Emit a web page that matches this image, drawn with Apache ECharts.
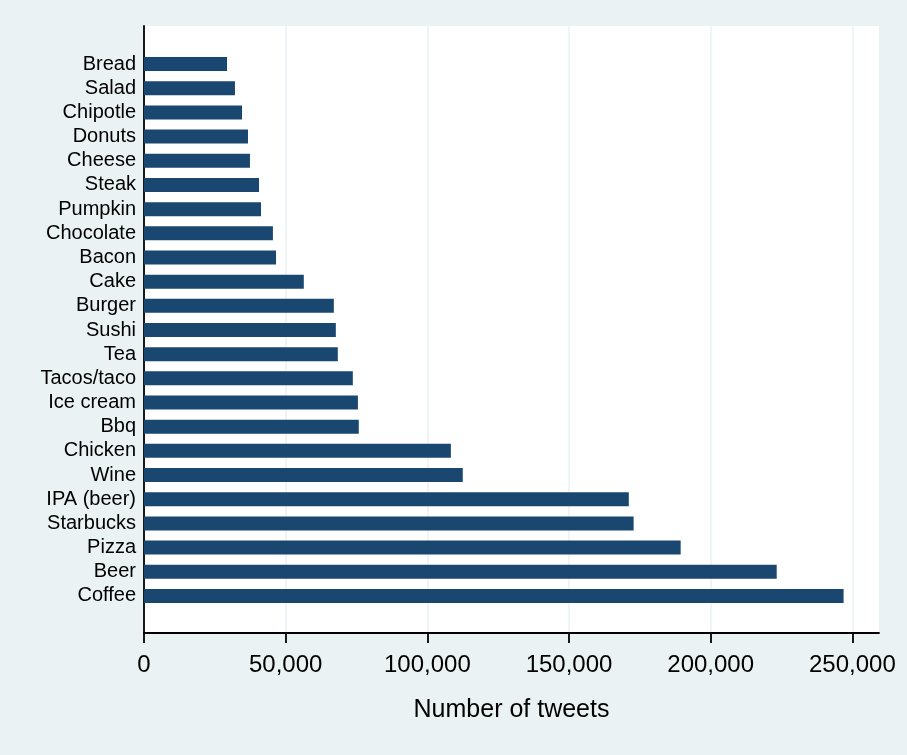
<!DOCTYPE html>
<html>
<head>
<meta charset="utf-8">
<script src="https://cdn.jsdelivr.net/npm/echarts@6/dist/echarts.min.js"></script>
<style>
    html, body {margin: 0; padding: 0; background: #eaf2f3;}
    #chart {width: 907px; height: 755px;}
</style>
</head>
<body>
<div id="chart"></div>
<script>
const foods = ['Bread', 'Salad', 'Chipotle', 'Donuts', 'Cheese', 'Steak', 'Pumpkin', 'Chocolate',
    'Bacon', 'Cake', 'Burger', 'Sushi', 'Tea', 'Tacos/taco', 'Ice cream', 'Bbq', 'Chicken', 'Wine',
    'IPA (beer)', 'Starbucks', 'Pizza', 'Beer', 'Coffee'];
const tweets = [29300, 32100, 34600, 36700, 37400, 40600, 41300, 45500,
    46600, 56400, 67000, 67700, 68400, 73700, 75500, 75800, 108300, 112500,
    171100, 172800, 189400, 223300, 246900];
const xTicks = [0, 50000, 100000, 150000, 200000, 250000];

(function () {
    const xMax = 259400;
    const font = 'Liberation Sans, Arial, sans-serif';
    const fmt = v => v.toLocaleString('en-US');

    const chart = echarts.init(document.getElementById('chart'));
    const option = {
        backgroundColor: '#eaf2f3',
        animation: false,
        textStyle: {fontFamily: font, color: '#000'},
        grid: [
            {left: 144, right: 28, top: 26, bottom: 122, show: true, backgroundColor: '#fff', borderWidth: 0},
            {left: 144, right: 28, top: 52, bottom: 147}
        ],
        xAxis: [
            {
                gridIndex: 0, type: 'value', min: 0, max: xMax,
                name: 'Number of tweets', nameLocation: 'middle', nameGap: 65,
                nameTextStyle: {fontSize: 25, color: '#000', fontFamily: font},
                axisLine: {show: true, lineStyle: {color: '#000', width: 1.8}},
                axisTick: {show: true, length: 10, lineStyle: {color: '#000', width: 1.8}, customValues: xTicks},
                axisLabel: {fontSize: 24, color: '#000', margin: 20, fontFamily: font, formatter: fmt, customValues: xTicks},
                splitLine: {show: true, lineStyle: {color: '#eaf2f3', width: 1.5}}
            },
            {
                gridIndex: 1, type: 'value', min: 0, max: xMax,
                axisLine: {show: false}, axisTick: {show: false}, axisLabel: {show: false}, splitLine: {show: false}
            }
        ],
        yAxis: [
            {
                gridIndex: 0, type: 'value', min: 0, max: 1,
                axisLine: {show: true, lineStyle: {color: '#000', width: 1.8}},
                axisTick: {show: false}, axisLabel: {show: false}, splitLine: {show: false}
            },
            {
                gridIndex: 1, type: 'category', data: foods, inverse: true,
                axisLine: {show: false}, axisTick: {show: false},
                axisLabel: {fontSize: 20, color: '#000', margin: 8, interval: 0, fontFamily: font}
            }
        ],
        series: [{
            type: 'bar',
            xAxisIndex: 1,
            yAxisIndex: 1,
            data: tweets,
            barWidth: 14,
            itemStyle: {color: '#1a476f'}
        }]
    };
    chart.setOption(option);
})();
</script>
</body>
</html>
